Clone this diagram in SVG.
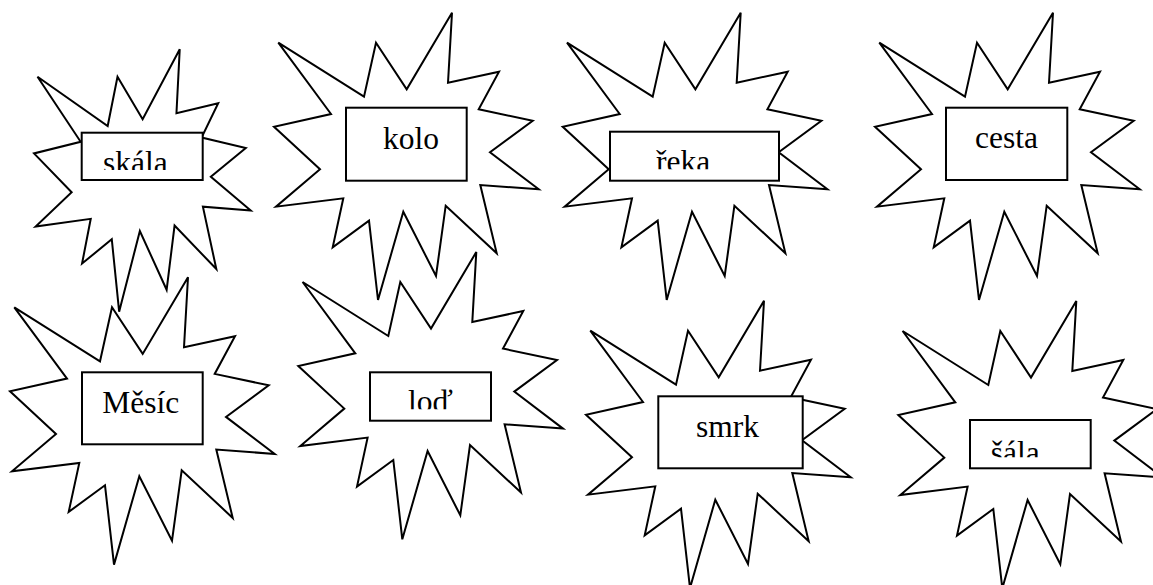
<svg xmlns="http://www.w3.org/2000/svg" xmlns:xlink="http://www.w3.org/1999/xlink" width="1153" height="585" viewBox="0 0 1153 585">
<style>
.burst{fill:#fff;stroke:#000;stroke-width:2;stroke-linejoin:miter;vector-effect:non-scaling-stroke}
.box{fill:#fff;stroke:#000;stroke-width:2}
.lbl{font-family:"Liberation Serif","Times New Roman",serif;font-size:31.5px;fill:#000}
</style>
<defs>
<path id="seal" class="burst" d="M4.3,30 L90,84 L102,30 L132.7,76.6 L178,0 L174,70 L225,59 L204.7,96.6 L258.7,108 L216,139.6 L264.7,176.6 L206.3,172.3 L222.7,240.6 L171.7,193 L162,263.3 L129.3,199 L104,287.3 L95,208 L58.7,234.6 L69.3,185.6 L2,194 L46,156.6 L0,114 L57,101.3 Z"/>
<clipPath id="c1"><rect x="82" y="133" width="120" height="37"/></clipPath>
<clipPath id="c3"><rect x="610" y="132" width="169" height="37.3"/></clipPath>
<clipPath id="c6"><rect x="370" y="372" width="121" height="37.3"/></clipPath>
<clipPath id="c8"><rect x="970" y="420" width="120" height="37.3"/></clipPath>
</defs>
<g id="connectors"/>
<g id="n-skala">
<use xlink:href="#seal" transform="translate(34,49.3) scale(0.8187,0.9133)"/>
<rect class="box" x="81.7" y="132.7" width="121" height="47.3"/>
<text class="lbl" x="103" y="172.5" clip-path="url(#c1)">skála</text>
</g>
<g id="n-kolo">
<use xlink:href="#seal" transform="translate(274,12.7)"/>
<rect class="box" x="346" y="107.7" width="120.7" height="73"/>
<text class="lbl" x="383" y="149">kolo</text>
</g>
<g id="n-reka">
<use xlink:href="#seal" transform="translate(562.7,12.7)"/>
<rect class="box" x="610" y="131.7" width="169" height="49"/>
<text class="lbl" x="656" y="171.5" clip-path="url(#c3)">řeka</text>
</g>
<g id="n-cesta">
<use xlink:href="#seal" transform="translate(875,12.7)"/>
<rect class="box" x="946" y="107.7" width="121.3" height="72.3"/>
<text class="lbl" x="975" y="148.3">cesta</text>
</g>
<g id="n-mesic">
<use xlink:href="#seal" transform="translate(10,277.3)"/>
<rect class="box" x="82" y="372.3" width="120.7" height="72"/>
<text class="lbl" x="102.3" y="413.3">Měsíc</text>
</g>
<g id="n-lod">
<use xlink:href="#seal" transform="translate(298.3,252)"/>
<rect class="box" x="370" y="372.3" width="121" height="48.4"/>
<text class="lbl" x="408" y="412" clip-path="url(#c6)">loď</text>
</g>
<g id="n-smrk">
<use xlink:href="#seal" transform="translate(586,300.7)"/>
<rect class="box" x="658.3" y="396.3" width="144.4" height="72"/>
<text class="lbl" x="696" y="436.7">smrk</text>
</g>
<g id="n-sala">
<use xlink:href="#seal" transform="translate(898.3,301)"/>
<rect class="box" x="970" y="420" width="120.7" height="48.3"/>
<text class="lbl" x="990.7" y="463" clip-path="url(#c8)">šála</text>
</g>
</svg>
